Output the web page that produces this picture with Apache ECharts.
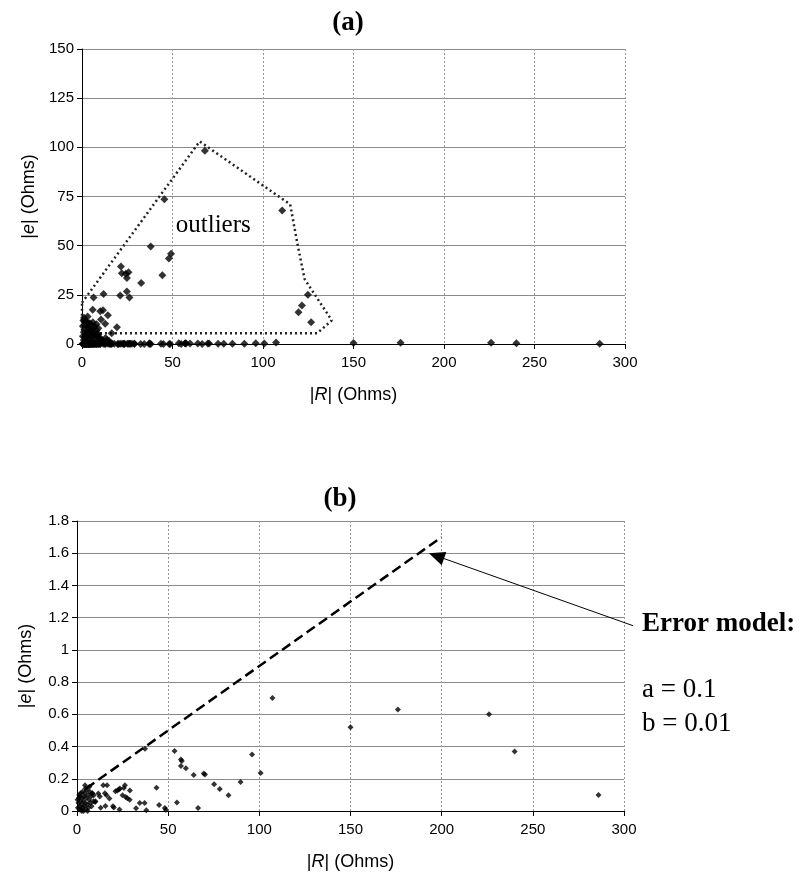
<!DOCTYPE html>
<html>
<head>
<meta charset="utf-8">
<script src="https://cdn.jsdelivr.net/npm/echarts@6/dist/echarts.min.js"></script>
<style>
  html, body { margin: 0; padding: 0; background: #fff; }
  #chart { width: 803px; height: 881px; }
</style>
</head>
<body>
<div id="chart"></div>
<script>
// |R| and |e| of the points that pass the error model (shown in both panels)
const rBase = [
  0.5, 0.8, 1, 1.2, 1.5, 1.8, 2, 2.2, 2.5, 2.8, 3, 3.2, 3.5, 3.8, 4, 4.2, 4.5, 4.8, 5, 5.3,
  5.6, 6, 6.3, 6.6, 7, 7.3, 7.7, 8, 8.4, 9, 1.3, 2.6, 3.6, 5.8, 0.3, 1.6, 4.6, 6.8, 4.4, 11.7,
  9.9, 14.4, 12.5, 13, 10.1, 9.2, 8.3,
  15.3, 15.6, 16.2, 16.5, 17.8, 19.7, 20.2, 21.1, 22.1, 23, 23.3, 23.5, 25, 25.7, 26.3, 26.7,
  27.6, 28.9, 29, 32.4, 34.4, 37.1, 37.3, 38, 43.6, 45, 48.2, 48.7, 53.5, 54.8, 57, 57.5, 57,
  59.7, 64, 66.4, 69.5, 70.2, 75.2, 78.3, 83.1, 89.7, 96, 100.7, 107.2, 150, 176, 226, 240, 286
]
const eBase = [
  0.02, 0.05, 0.08, 0.10, 0.03, 0.06, 0.11, 0.01, 0.04, 0.08, 0.12, 0.02, 0.06, 0.09, 0.03, 0.11, 0.05, 0.01, 0.08, 0.13,
  0.04, 0.10, 0.02, 0.07, 0.12, 0.05, 0.09, 0.03, 0.11, 0.06, 0.01, 0.00, 0.00, 0.00, 0.07, 0.09, 0.14, 0.15, 0.16, 0.108,
  0.056, 0.16, 0.09, 0.02, 0.06, 0.097, 0.108,
  0.11, 0.031, 0.097, 0.16, 0.077, 0.029, 0.021, 0.122, 0.128, 0.133, 0.01, 0.139, 0.097, 0.143, 0.16, 0.087,
  0.079, 0.07, 0.128, 0.017, 0.05, 0.05, 0.387, 0.004, 0.145, 0.037, 0.019, 0.008, 0.373, 0.052, 0.319, 0.31, 0.28,
  0.265, 0.224, 0.019, 0.232, 0.226, 0.166, 0.137, 0.097, 0.18, 0.35, 0.236, 0.702, 0.52, 0.63, 0.60, 0.37, 0.10
]
// outliers, only visible in panel (a)
const rOut = [
  67.9, 45.5, 110.6, 38, 49.2, 48, 44.4, 21.5, 22, 24.2, 25.7, 24.8, 32.7, 21.1, 24.8, 26.2, 11.9, 6.4,
  126.6, 119.6, 121.5, 124.8, 5.9, 10.1, 11.6, 3.1, 14.3, 10.5, 12.8, 19.3, 1.1, 16.4,
  1, 2, 3, 4, 5, 6, 7, 8, 9, 10, 11, 12, 2, 3, 1, 4, 6, 7, 5, 8, 2, 0.5, 13, 14, 15, 0.5, 1.5, 9, 3.5, 6.5,
  1.5, 2.5, 3.5, 4.5, 5.5, 6.5, 7.5, 8.5, 9.5, 10.5, 0.8, 2.2, 4.2, 6.2, 8.2
]
const eOut = [
  98.3, 73.6, 67.9, 49.6, 45.9, 43.5, 34.9, 39.4, 36, 35.7, 36.5, 33.5, 31, 24.7, 26.7, 23.7, 25.4, 23.7,
  11, 16.1, 19.6, 25, 17.4, 16.6, 17.1, 14, 14.6, 12.4, 10.3, 8.5, 13.3, 5.5,
  2, 4, 6, 8, 10, 11, 9, 7, 5, 3, 2, 1.5, 9, 11, 6, 3, 5, 3, 7, 10, 1, 4, 3, 2, 1.5, 9, 11, 8, 2.5, 1,
  3.5, 6.5, 8.5, 5.5, 4, 6, 4.5, 3.5, 2.5, 1.5, 12, 11.5, 10.5, 8, 5
]
// hand-drawn outline around the outliers in panel (a)
const polyR = [0, 65, 115, 119, 123, 138, 130, 6, 0, 0]
const polyE = [21, 103, 71, 51, 33, 12, 5.5, 5.5, 7, 21]
// error model line and annotation in panel (b)
const modelR = [5, 200]
const modelE = [0.14, 1.7]
const arrowFrom = [305, 1.15]
const arrowTo = [193, 1.6]
const outlierLabelAt = [75, 59]

const xTicks = { min: 0, max: 300, interval: 50 }
const yTicksA = { min: 0, max: 150, interval: 25 }
const yTicksB = { min: 0, max: 1.8, interval: 0.2 }

const zip = (a, b) => a.map((v, i) => [v, b[i]])

const chart = echarts.init(document.getElementById('chart'))
const sans = 'Liberation Sans, Arial, sans-serif'
const serif = 'Liberation Serif, Times New Roman, serif'

function nameStyle () {
  return {
    color: '#000',
    fontFamily: sans,
    fontSize: 18,
    rich: { i: { fontStyle: 'italic', fontFamily: sans, fontSize: 18, color: '#000' } }
  }
}
function xAxisOf (gridIndex, gap) {
  return {
    type: 'value',
    gridIndex: gridIndex,
    ...xTicks,
    name: '|{i|R}| (Ohms)',
    nameLocation: 'middle',
    nameGap: gap,
    nameTextStyle: nameStyle(),
    axisLine: { onZero: false, lineStyle: { color: '#000', width: 1 } },
    axisTick: { show: true, length: 5, lineStyle: { color: '#000' } },
    axisLabel: { color: '#000', fontFamily: sans, fontSize: 15, margin: 11 },
    splitLine: { show: true, lineStyle: { color: '#999', type: [2, 2], width: 1 } }
  }
}
function yAxisOf (gridIndex, ticks, gap) {
  return {
    type: 'value',
    gridIndex: gridIndex,
    ...ticks,
    name: '|{i|e}| (Ohms)',
    nameLocation: 'middle',
    nameRotate: 90,
    nameGap: gap,
    nameTextStyle: nameStyle(),
    axisLine: { show: true, onZero: false, lineStyle: { color: '#000', width: 1 } },
    axisTick: { show: true, length: 5, lineStyle: { color: '#000' } },
    axisLabel: { color: '#000', fontFamily: sans, fontSize: 15, margin: 8 },
    splitLine: { show: true, lineStyle: { color: '#8a8a8a', width: 1 } }
  }
}

const option = {
  animation: false,
  backgroundColor: '#fff',
  title: [
    { text: '(a)', left: 343, top: 5, textAlign: 'center', textStyle: { fontFamily: serif, fontWeight: 'bold', fontSize: 27, color: '#000' } },
    { text: '(b)', left: 335, top: 481, textAlign: 'center', textStyle: { fontFamily: serif, fontWeight: 'bold', fontSize: 27, color: '#000' } }
  ],
  grid: [
    { left: 82, top: 49, width: 543, height: 295 },
    { left: 77, top: 521, width: 547, height: 290 }
  ],
  xAxis: [xAxisOf(0, 42), xAxisOf(1, 42)],
  yAxis: [yAxisOf(0, yTicksA, 44), yAxisOf(1, yTicksB, 42)],
  series: [
    {
      type: 'line',
      xAxisIndex: 0,
      yAxisIndex: 0,
      data: zip(polyR, polyE),
      showSymbol: false,
      clip: false,
      lineStyle: { color: '#222', width: 2.5, type: [2, 3] },
      z: 1
    },
    {
      type: 'scatter',
      xAxisIndex: 0,
      yAxisIndex: 0,
      symbol: 'diamond',
      symbolSize: 8,
      itemStyle: { color: '#000' },
      data: zip(rBase, eBase).concat(zip(rOut, eOut)),
      z: 3
    },
    {
      type: 'scatter',
      xAxisIndex: 1,
      yAxisIndex: 1,
      symbol: 'diamond',
      symbolSize: 6,
      itemStyle: { color: '#000' },
      data: zip(rBase, eBase),
      z: 3
    },
    {
      type: 'line',
      xAxisIndex: 1,
      yAxisIndex: 1,
      data: zip(modelR, modelE),
      showSymbol: false,
      lineStyle: { color: '#000', width: 2.5, type: [10, 5] },
      z: 2
    }
  ]
}
chart.setOption(option)

// annotations placed from data coordinates
const labelPx = chart.convertToPixel({ gridIndex: 0 }, outlierLabelAt)
const fromPx = chart.convertToPixel({ gridIndex: 1 }, arrowFrom)
const toPx = chart.convertToPixel({ gridIndex: 1 }, arrowTo)
const dx = toPx[0] - fromPx[0]
const dy = toPx[1] - fromPx[1]
const len = Math.sqrt(dx * dx + dy * dy)
const ux = dx / len
const uy = dy / len
const headLen = 16
const headW = 7
const baseX = toPx[0] - ux * headLen
const baseY = toPx[1] - uy * headLen

chart.setOption({
  graphic: [
    {
      type: 'text',
      left: labelPx[0] - 42,
      top: labelPx[1] - 15,
      style: { text: 'outliers', font: '25px "Liberation Serif"', fill: '#000' }
    },
    {
      type: 'line',
      shape: { x1: fromPx[0], y1: fromPx[1], x2: baseX, y2: baseY },
      style: { stroke: '#000', lineWidth: 1 }
    },
    {
      type: 'polygon',
      shape: {
        points: [
          [toPx[0], toPx[1]],
          [baseX - uy * headW, baseY + ux * headW],
          [baseX + uy * headW, baseY - ux * headW]
        ]
      },
      style: { fill: '#000' }
    },
    {
      type: 'text',
      left: 642,
      top: 611,
      style: { text: 'Error model:', font: 'bold 27px "Liberation Serif"', fill: '#000' }
    },
    {
      type: 'text',
      left: 642,
      top: 676,
      style: { text: 'a = 0.1', font: '27px "Liberation Serif"', fill: '#000' }
    },
    {
      type: 'text',
      left: 642,
      top: 710,
      style: { text: 'b = 0.01', font: '27px "Liberation Serif"', fill: '#000' }
    }
  ]
})
</script>
</body>
</html>
